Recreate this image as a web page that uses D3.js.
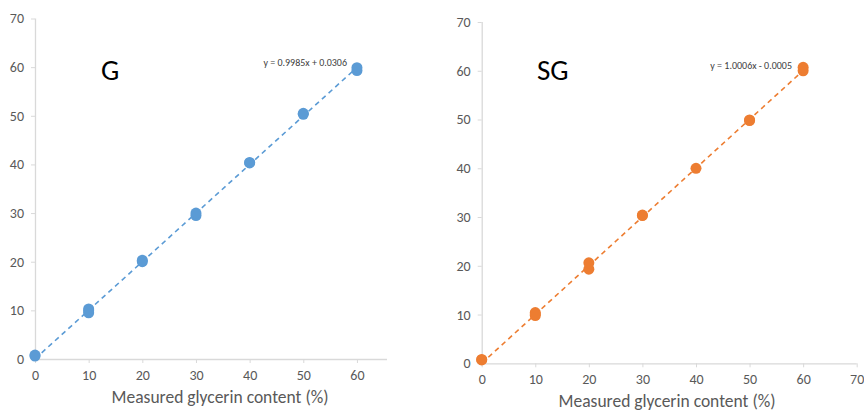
<!DOCTYPE html>
<html>
<head>
<meta charset="utf-8">
<script src="https://cdn.jsdelivr.net/npm/d3@7"></script>
<style>
  body { margin: 0; background: #fff; }
  text { font-family: Carlito, Lato, "Open Sans", sans-serif; }
</style>
</head>
<body>
<svg id="chart" width="864" height="412"></svg>
<script>
// G panel: added (x) vs measured (y)
const gX = [0, 0, 10, 10, 10, 20, 20, 30, 30, 40, 40, 50, 50, 60, 60];
const gY = [0.6, 0.8, 9.5, 10.3, 9.9, 20.0, 20.3, 29.5, 30.0, 40.3, 40.4, 50.3, 50.5, 59.3, 59.9];
// SG panel
const sgX = [0, 0, 10, 10, 10, 20, 20, 30, 30, 40, 50, 50, 60, 60];
const sgY = [0.8, 0.7, 9.8, 10.4, 10.1, 19.3, 20.6, 30.3, 30.4, 40.0, 49.8, 49.9, 60.0, 60.7];

const xTicksG = [0, 10, 20, 30, 40, 50, 60];
const xTicksSG = [0, 10, 20, 30, 40, 50, 60, 70];
const yTicks = [0, 10, 20, 30, 40, 50, 60, 70];

const svg = d3.select("#chart");

function drawPanel(opt) {
  var g = svg.append("g");
  var x = d3.scaleLinear().domain([0, opt.xMax]).range([opt.left, opt.right]);
  var y = d3.scaleLinear().domain([0, 70]).range([opt.bottom, opt.top]);

  // axes
  var yAxis = g.append("g")
    .attr("transform", "translate(" + opt.left + ",0)")
    .call(d3.axisLeft(y).tickValues(yTicks).tickSize(4).tickPadding(7));
  var xAxis = g.append("g")
    .attr("transform", "translate(0," + opt.bottom + ")")
    .call(d3.axisBottom(x).tickValues(opt.xTicks).tickSize(4).tickPadding(7));

  [xAxis, yAxis].forEach(function(a) {
    a.select(".domain").attr("stroke", "#d9d9d9").attr("stroke-width", 1.3);
    a.selectAll(".tick line").attr("stroke", "#d9d9d9");
    a.selectAll(".tick text").attr("fill", "#595959").style("font-size", "14px")
      .style("font-family", "Carlito, Lato, 'Open Sans', sans-serif");
  });
  xAxis.select(".domain").attr("d", "M" + opt.left + ",0.5H" + opt.right);
  yAxis.select(".domain").attr("d", "M0.5," + opt.bottom + "V" + opt.top);

  // axis title
  g.append("text")
    .attr("x", opt.titleX).attr("y", opt.titleY)
    .attr("text-anchor", "middle")
    .attr("fill", "#595959")
    .style("font-size", "17.5px")
    .text("Measured glycerin content (%)");

  // trendline
  var tx = [0, 60];
  g.append("line")
    .attr("x1", x(tx[0])).attr("y1", y(opt.slope * tx[0] + opt.icpt))
    .attr("x2", x(tx[1])).attr("y2", y(opt.slope * tx[1] + opt.icpt))
    .attr("stroke", opt.color)
    .attr("stroke-width", 1.6)
    .attr("stroke-dasharray", "5,4");

  // points
  g.selectAll("circle.pt")
    .data(opt.xs.map(function(d, i) { return [d, opt.ys[i]]; }))
    .enter()
    .append("circle")
    .attr("class", "pt")
    .attr("cx", function(d) { return x(d[0]); })
    .attr("cy", function(d) { return y(d[1]); })
    .attr("r", 5.5)
    .attr("fill", opt.color);

  // panel label
  g.append("text")
    .attr("x", opt.labelX).attr("y", 80)
    .attr("fill", "#000")
    .style("font-size", "29px")
    .text(opt.label);

  // equation
  g.append("text")
    .attr("x", opt.eqX).attr("y", opt.eqY)
    .attr("text-anchor", "end")
    .attr("fill", "#404040")
    .style("font-size", "10px")
    .text(opt.eq);
}

drawPanel({
  xs: gX, ys: gY, xMax: 65.6, xTicks: xTicksG,
  left: 35, right: 387, top: 18.5, bottom: 359,
  color: "#5b9bd5", slope: 0.9985, icpt: 0.0306,
  label: "G", labelX: 101, eq: "y = 0.9985x + 0.0306", eqX: 347, eqY: 66,
  titleX: 220, titleY: 403
});

drawPanel({
  xs: sgX, ys: sgY, xMax: 70, xTicks: xTicksSG,
  left: 481.7, right: 856.7, top: 22, bottom: 363.3,
  color: "#ed7d31", slope: 1.0006, icpt: -0.0005,
  label: "SG", labelX: 537, eq: "y = 1.0006x - 0.0005", eqX: 792, eqY: 69,
  titleX: 667, titleY: 407
});
</script>
</body>
</html>
